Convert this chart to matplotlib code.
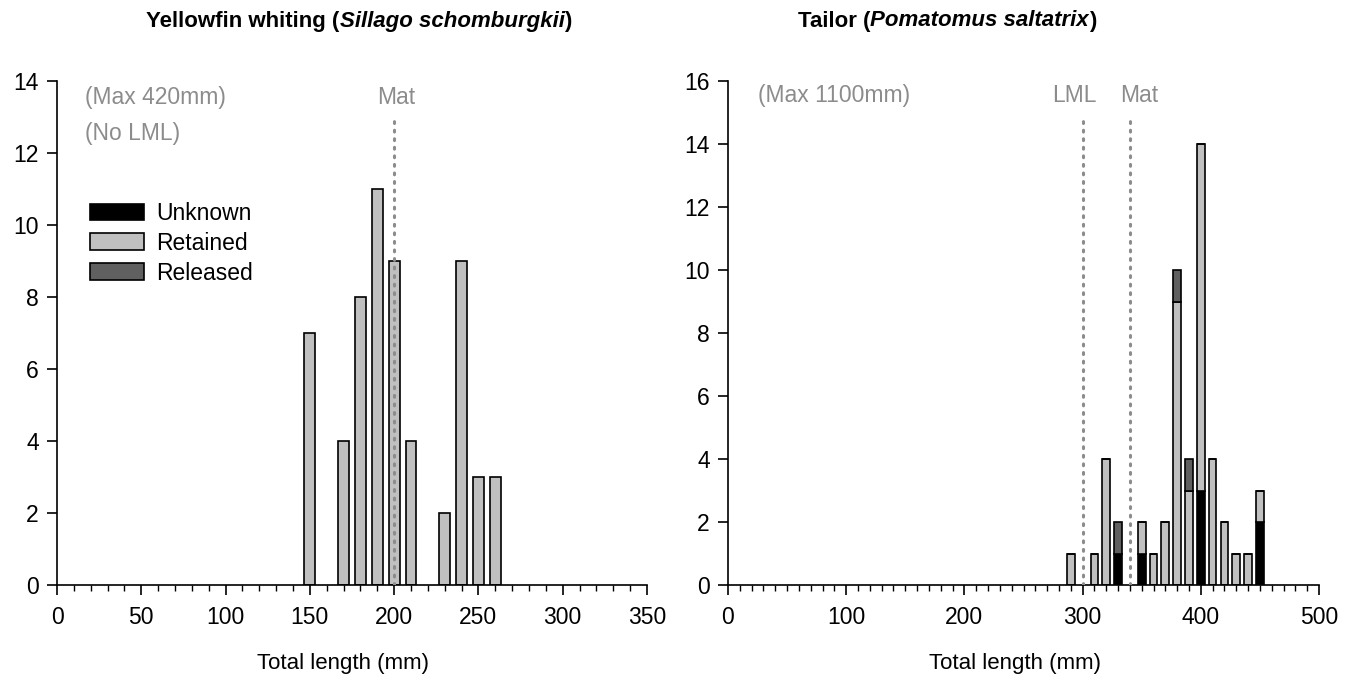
import matplotlib
matplotlib.use("Agg")
import matplotlib.pyplot as plt
import numpy as np
from matplotlib.patches import Patch
from matplotlib.ticker import MultipleLocator

plt.rcParams['font.family'] = ['Liberation Sans', 'DejaVu Sans']

# ---- data ----
# Yellowfin whiting (all retained)
yf_lengths = [150, 170, 180, 190, 200, 210, 230, 240, 250, 260]
yf_retained = [7, 4, 8, 11, 9, 4, 2, 9, 3, 3]
yf_mat = 200

# Tailor
tl_lengths = [290, 310, 320, 330, 350, 360, 370, 380, 390, 400, 410, 420, 430, 440, 450]
tl_unknown = [0, 0, 0, 1, 1, 0, 0, 0, 0, 3, 0, 0, 0, 0, 2]
tl_retained = [1, 1, 4, 0, 1, 1, 2, 9, 3, 11, 4, 2, 1, 1, 1]
tl_released = [0, 0, 0, 1, 0, 0, 0, 1, 1, 0, 0, 0, 0, 0, 0]
tl_lml = 300
tl_mat = 340

categories = ['Unknown', 'Retained', 'Released']
colors = {'Unknown': '#000000', 'Retained': '#c0c0c0', 'Released': '#606060'}

W, H = 1356, 681
fig = plt.figure(figsize=(W / 100, H / 100), dpi=100)

def px_axes(x0, x1, y0, y1):
    return fig.add_axes([x0 / W, 1 - y1 / H, (x1 - x0) / W, (y1 - y0) / H])

ax1 = px_axes(57, 647, 81, 585)
ax2 = px_axes(728, 1319, 81, 585)

FS = 16.5
TFS = 16
GREY = '#8c8c8c'
BW = 6.5

def style(ax, xmax, xmajor, ymax, width_px):
    ax.set_xlim(0, xmax)
    ax.set_ylim(0, ymax)
    for s in ['top', 'right']:
        ax.spines[s].set_visible(False)
    for s in ['left', 'bottom']:
        ax.spines[s].set_linewidth(1.2)
    ax.xaxis.set_major_locator(MultipleLocator(xmajor))
    ax.xaxis.set_minor_locator(MultipleLocator(10))
    ax.yaxis.set_major_locator(MultipleLocator(2))
    ax.tick_params(axis='x', which='major', direction='out', length=7, width=1.2, labelsize=FS, pad=8)
    ax.tick_params(axis='x', which='minor', direction='out', length=4, width=1.0)
    ax.tick_params(axis='y', which='major', direction='out', length=7, width=1.2, labelsize=FS, pad=6)
    ax.set_xlabel('Total length (mm)', fontsize=16)
    ax.xaxis.set_label_coords(0.5 - 9 / width_px, -(653 - 585) / 504)

# left chart
ax1.bar(yf_lengths, yf_retained, width=BW, color=colors['Retained'], edgecolor='black', linewidth=1.2, zorder=2)
style(ax1, 350, 50, 14, 590)
ax1.plot([yf_mat, yf_mat], [0, 12.9], linestyle=(0, (0.6, 2.2)), color=GREY, linewidth=2.2,
         dash_capstyle='round', zorder=3)
ax1.text(yf_mat + 1, 13.55, 'Mat', color=GREY, fontsize=FS, ha='center', va='center')
ax1.text(16.5, 13.55, '(Max 420mm)', color=GREY, fontsize=FS, ha='left', va='center')
ax1.text(16.5, 12.55, '(No LML)', color=GREY, fontsize=FS, ha='left', va='center')
handles = [Patch(facecolor=colors[c], edgecolor='black', linewidth=1.2, label=c) for c in categories]
ax1.legend(handles=handles, loc='upper left', bbox_to_anchor=(0.056, 0.76), frameon=False,
           fontsize=FS, handlelength=2.35, handleheight=0.75, labelspacing=0.3, handletextpad=0.55,
           borderaxespad=0, borderpad=0)

# right chart
unk = np.array(tl_unknown)
ret = np.array(tl_retained)
rel = np.array(tl_released)
ax2.bar(tl_lengths, unk, width=BW, color=colors['Unknown'], edgecolor='black', linewidth=1.2, zorder=2)
ax2.bar(tl_lengths, ret, width=BW, bottom=unk, color=colors['Retained'], edgecolor='black', linewidth=1.2, zorder=2)
ax2.bar(tl_lengths, rel, width=BW, bottom=unk + ret, color=colors['Released'], edgecolor='black', linewidth=1.2, zorder=2)
style(ax2, 500, 100, 16, 591)
for xv, lab, dx in [(tl_lml, 'LML', -7), (tl_mat, 'Mat', 8)]:
    ax2.plot([xv, xv], [0, 14.75], linestyle=(0, (0.6, 2.2)), color=GREY, linewidth=2.2,
             dash_capstyle='round', zorder=3)
    ax2.text(xv + dx, 15.55, lab, color=GREY, fontsize=FS, ha='center', va='center')
ax2.text(25.4, 15.55, '(Max 1100mm)', color=GREY, fontsize=FS, ha='left', va='center')

# titles with bold + bold italic pieces
renderer = fig.canvas.get_renderer()

def mixed_title(cx, cy, parts):
    texts = []
    widths = []
    for s, st in parts:
        t = fig.text(0, cy / H, s, fontsize=TFS, fontweight='bold', fontstyle=st,
                     ha='left', va='center', transform=fig.transFigure)
        bb = t.get_window_extent(renderer)
        texts.append(t)
        widths.append(bb.width)
    total = sum(widths)
    x = cx - total / 2
    for t, w in zip(texts, widths):
        t.set_x(x / W)
        x += w

mixed_title(359, H - 21, [('Yellowfin whiting (', 'normal'), ('Sillago schomburgkii', 'italic'), (')', 'normal')])
mixed_title(947, H - 21, [('Tailor (', 'normal'), ('Pomatomus saltatrix', 'italic'), (')', 'normal')])

fig.savefig('out.png', dpi=100)
